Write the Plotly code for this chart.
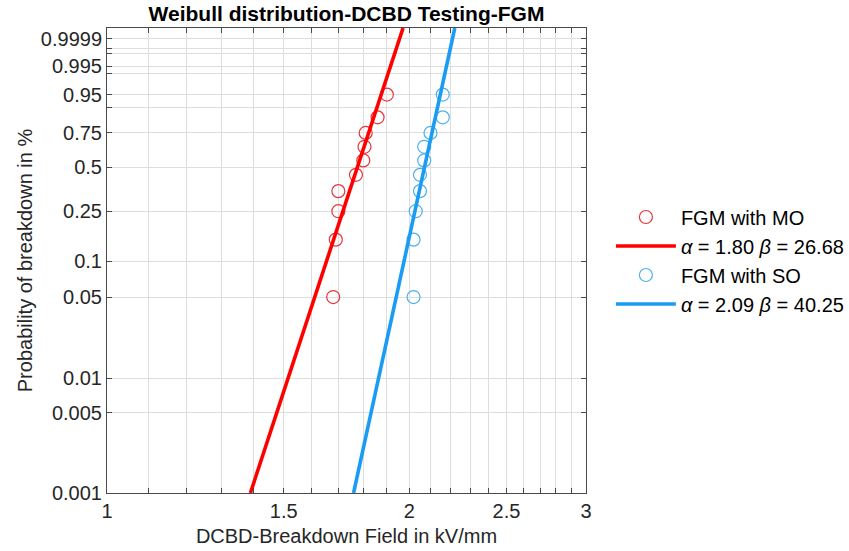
import numpy as np
import plotly.graph_objects as go

# ---- data ----
probs = [0.05, 0.15, 0.25, 0.35, 0.45, 0.55, 0.65, 0.75, 0.85, 0.95]
mo_field = [1.68, 1.69, 1.70, 1.70, 1.77, 1.80, 1.805, 1.81, 1.86, 1.90]
so_field = [2.02, 2.02, 2.03, 2.05, 2.05, 2.07, 2.07, 2.10, 2.16, 2.16]
mo_alpha, mo_beta = 1.80, 26.68
so_alpha, so_beta = 2.09, 40.25

y_tick_probs = [0.001, 0.005, 0.01, 0.05, 0.1, 0.25, 0.5, 0.75, 0.9, 0.95,
                0.99, 0.995, 0.999, 0.9995, 0.9999]
y_tick_labels = ['0.001', '0.005', '0.01', '0.05', '0.1', '0.25', '0.5', '0.75', '',
                 '0.95', '', '0.995', '', '', '0.9999']
x_tick_vals = [1.0, 1.1, 1.2, 1.3, 1.4, 1.5, 1.6, 1.7, 1.8, 1.9, 2.0, 2.1, 2.2, 2.3,
               2.4, 2.5, 2.6, 2.7, 2.8, 2.9, 3.0]
x_tick_labels = ['1', '', '', '', '', '1.5', '', '', '', '', '2', '', '', '', '',
                 '2.5', '', '', '', '', '3']
p_min = 0.001


def wscale(p):
    p = np.asarray(p, dtype=float)
    return np.log(-np.log(1.0 - p))


y_lo, y_hi = float(wscale(p_min)), 2.435
w_line = np.linspace(y_lo, y_hi, 50)

font = "Liberation Sans, Arial, sans-serif"
fig = go.Figure()

fig.add_trace(go.Scatter(
    x=mo_field, y=wscale(probs), mode='markers', name='FGM with MO',
    marker=dict(symbol='circle-open', size=13, color='#e8343a', line=dict(width=1.2))))
fig.add_trace(go.Scatter(
    x=mo_alpha * np.exp(w_line / mo_beta), y=w_line, mode='lines',
    name='<i>α</i> = %.2f <i>β</i> = %.2f' % (mo_alpha, mo_beta),
    line=dict(color='#ff0000', width=3.6)))
fig.add_trace(go.Scatter(
    x=so_field, y=wscale(probs), mode='markers', name='FGM with SO',
    marker=dict(symbol='circle-open', size=13, color='#4db0ee', line=dict(width=1.2))))
fig.add_trace(go.Scatter(
    x=so_alpha * np.exp(w_line / so_beta), y=w_line, mode='lines',
    name='<i>α</i> = %.2f <i>β</i> = %.2f' % (so_alpha, so_beta),
    line=dict(color='#1a9cf5', width=3.6)))

axcol = '#4a4a4a'
gridcol = '#dedede'
fig.update_layout(
    width=849, height=551,
    margin=dict(l=107, r=263, t=28, b=58, autoexpand=False),
    paper_bgcolor='white', plot_bgcolor='white',
    font=dict(family=font, size=20, color='#262626'),
    title=dict(text='<b>Weibull distribution-DCBD Testing-FGM</b>',
               x=(107 + 586) / 2 / 849, xanchor='center', y=1 - 14 / 551, yanchor='middle',
               font=dict(family=font, size=21, color='black')),
    showlegend=True,
    legend=dict(x=1.052, xanchor='left', y=0.5, yanchor='middle',
                font=dict(family=font, size=20, color='black'),
                itemwidth=60, bgcolor='rgba(0,0,0,0)'),
    xaxis=dict(type='log', range=[0, np.log10(3)],
               tickvals=x_tick_vals, ticktext=x_tick_labels,
               ticks='inside', ticklen=5, tickcolor=axcol,
               showline=True, linecolor=axcol, linewidth=1, mirror='ticks',
               showgrid=True, gridcolor=gridcol, gridwidth=1, zeroline=False,
               title=dict(text='DCBD-Breakdown Field in kV/mm', standoff=7,
                          font=dict(size=20, color='#262626')),
               tickfont=dict(size=20, color='#262626')),
    yaxis=dict(range=[y_lo, y_hi],
               tickvals=list(wscale(y_tick_probs)), ticktext=y_tick_labels,
               ticks='inside', ticklen=5, tickcolor=axcol,
               showline=True, linecolor=axcol, linewidth=1, mirror='ticks',
               showgrid=True, gridcolor=gridcol, gridwidth=1, zeroline=False,
               title=dict(text='Probability of breakdown in %', standoff=2,
                          font=dict(size=20, color='#262626')),
               tickfont=dict(size=20, color='#262626')),
)

fig.write_html("out.html")
